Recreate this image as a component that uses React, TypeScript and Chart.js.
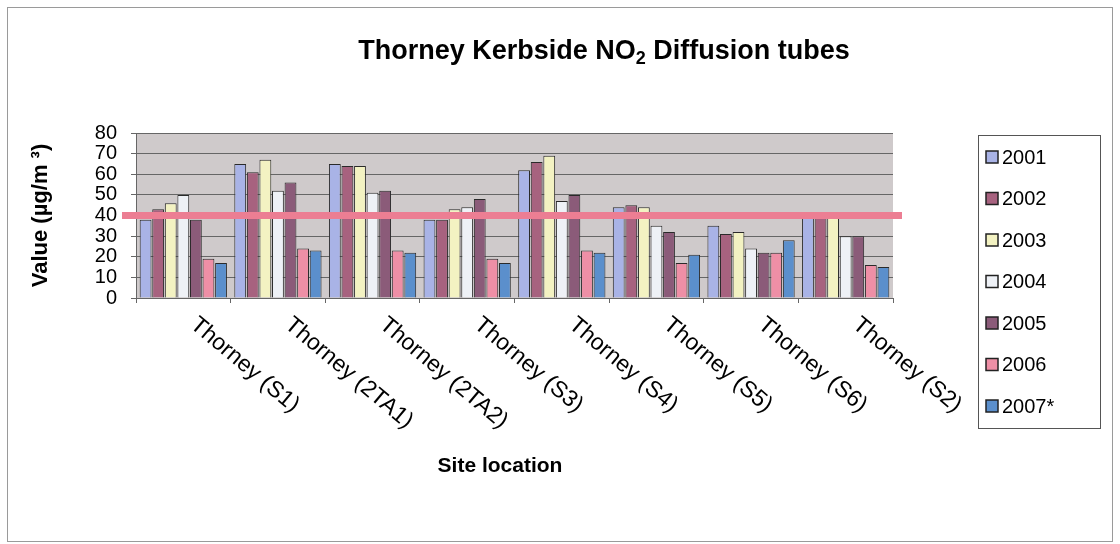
import React, { useEffect, useRef } from "react";
import { Chart, registerables } from "chart.js";

Chart.register(...registerables);

const categories = [
  "Thorney (S1)",
  "Thorney (2TA1)",
  "Thorney (2TA2)",
  "Thorney (S3)",
  "Thorney (S4)",
  "Thorney (S5)",
  "Thorney (S6)",
  "Thorney (S2)",
];
const seriesLabels = ["2001", "2002", "2003", "2004", "2005", "2006", "2007*"];
const values2001 = [38, 65, 65, 38, 62, 44, 35, 39];
const values2002 = [43, 61, 64, 38, 66, 45, 31, 39];
const values2003 = [46, 67, 64, 43, 69, 44, 32, 39];
const values2004 = [50, 52, 51, 44, 47, 35, 24, 30];
const values2005 = [38, 56, 52, 48, 50, 32, 22, 30];
const values2006 = [19, 24, 23, 19, 23, 17, 22, 16];
const values2007 = [17, 23, 22, 17, 22, 21, 28, 15];
const yMin = 0;
const yMax = 80;
const yStep = 10;
const limitValue = 40;
const xAxisTitle = "Site location";

const seriesColors = ["#A9B3E6", "#A7627F", "#F3F2C2", "#EEF1F6", "#8B5B79", "#EE8FA6", "#5B8FCC"];
const FONT = "'Liberation Sans', Arial, sans-serif";

const decorPlugin = {
  id: "decor",
  beforeDraw(chart: any) {
    const { ctx, chartArea, width, height } = chart;
    ctx.save();
    ctx.fillStyle = "#ffffff";
    ctx.fillRect(0, 0, width, height);
    ctx.strokeStyle = "#9a9a9a";
    ctx.lineWidth = 1;
    ctx.strokeRect(7.5, 7.5, width - 15, height - 10);
    ctx.fillStyle = "#CFCACB";
    ctx.fillRect(chartArea.left, chartArea.top, chartArea.right - chartArea.left, chartArea.bottom - chartArea.top);
    ctx.restore();
  },
  afterDatasetsDraw(chart: any) {
    const { ctx, chartArea, scales } = chart;
    const y = scales.y.getPixelForValue(limitValue);
    ctx.save();
    ctx.strokeStyle = "#EC7E93";
    ctx.lineWidth = 7;
    ctx.beginPath();
    ctx.moveTo(chartArea.left - 14, y);
    ctx.lineTo(chartArea.right + 9, y);
    ctx.stroke();
    ctx.restore();
  },
  afterDraw(chart: any) {
    const { ctx, chartArea, scales } = chart;
    ctx.save();
    // title with subscript
    const titleFont = `bold 27px ${FONT}`;
    const subFont = `bold 18px ${FONT}`;
    const p1 = "Thorney Kerbside NO";
    const p2 = "2";
    const p3 = " Diffusion tubes";
    ctx.font = titleFont;
    const w1 = ctx.measureText(p1).width;
    const w3 = ctx.measureText(p3).width;
    ctx.font = subFont;
    const w2 = ctx.measureText(p2).width;
    const total = w1 + w2 + w3;
    const cx = 604;
    const by = 59;
    let x = cx - total / 2;
    ctx.fillStyle = "#000";
    ctx.textBaseline = "alphabetic";
    ctx.textAlign = "left";
    ctx.font = titleFont;
    ctx.fillText(p1, x, by);
    x += w1;
    ctx.font = subFont;
    ctx.fillText(p2, x, by + 5);
    x += w2;
    ctx.font = titleFont;
    ctx.fillText(p3, x, by);

    // x axis title
    ctx.font = `bold 21px ${FONT}`;
    ctx.textAlign = "center";
    ctx.textBaseline = "middle";
    ctx.fillText(xAxisTitle, 500, 466);

    // rotated category labels (clockwise)
    ctx.font = `23px ${FONT}`;
    ctx.textAlign = "left";
    ctx.textBaseline = "middle";
    categories.forEach((label, i) => {
      const px = scales.x.getPixelForValue(i);
      ctx.save();
      ctx.translate(px + 10, chartArea.bottom + 24);
      ctx.rotate((40 * Math.PI) / 180);
      ctx.fillText(label, 0, 0);
      ctx.restore();
    });

    // legend
    const lx = 978;
    const ly = 135;
    const lw = 122;
    const lh = 293;
    ctx.fillStyle = "#ffffff";
    ctx.fillRect(lx, ly, lw, lh);
    ctx.strokeStyle = "#555";
    ctx.lineWidth = 1;
    ctx.strokeRect(lx + 0.5, ly + 0.5, lw, lh);
    ctx.font = `20px ${FONT}`;
    ctx.textBaseline = "middle";
    ctx.textAlign = "left";
    seriesLabels.forEach((label, i) => {
      const iy = ly + 22 + i * 41.5;
      ctx.fillStyle = seriesColors[i];
      ctx.fillRect(lx + 8, iy - 6, 12, 12);
      ctx.strokeStyle = "#222";
      ctx.lineWidth = 1.5;
      ctx.strokeRect(lx + 8, iy - 6, 12, 12);
      ctx.fillStyle = "#000";
      ctx.fillText(label, lx + 24, iy + 1);
    });
    ctx.restore();
  },
};

export default function App() {
  const ref = useRef<HTMLCanvasElement | null>(null);
  useEffect(() => {
    if (!ref.current) return;
    const allValues = [values2001, values2002, values2003, values2004, values2005, values2006, values2007];
    const chart = new Chart(ref.current, {
      type: "bar",
      data: {
        labels: categories,
        datasets: seriesLabels.map((label, i) => ({
          label,
          data: allValues[i],
          backgroundColor: seriesColors[i],
          borderColor: "#2a2a2a",
          borderWidth: 1,
          categoryPercentage: 0.93,
          barPercentage: 0.94,
        })),
      },
      options: {
        responsive: false,
        animation: false,
        layout: { padding: { left: 0, top: 133, right: 227, bottom: 0 } },
        plugins: {
          legend: { display: false },
          title: { display: false },
          tooltip: { enabled: false },
        },
        scales: {
          x: {
            type: "category",
            offset: true,
            afterFit: (scale: any) => {
              scale.height = 246;
            },
            grid: {
              offset: true,
              drawOnChartArea: false,
              drawTicks: true,
              tickLength: 5,
              color: "#666",
            },
            border: { display: true, color: "#666", width: 1 },
            ticks: { display: false },
            title: { display: false },
          },
          y: {
            min: yMin,
            max: yMax,
            afterFit: (scale: any) => {
              scale.width = 136;
            },
            ticks: {
              stepSize: yStep,
              autoSkip: false,
              color: "#000",
              padding: 14,
              font: { family: FONT, size: 20, lineHeight: 1 },
            },
            grid: {
              color: "#666",
              lineWidth: 1,
              drawTicks: true,
              tickLength: 5,
            },
            border: { display: true, color: "#666", width: 1 },
            title: {
              display: true,
              text: "Value (µg/m ³)",
              color: "#000",
              font: { family: FONT, size: 22, weight: "bold" },
              padding: { top: 28, bottom: 0 },
            },
          },
        },
      },
      plugins: [decorPlugin],
    });
    return () => chart.destroy();
  }, []);
  return (
    <div style={{ position: "absolute", left: 0, top: 0, width: 1120, height: 544 }}>
      <canvas ref={ref} width={1120} height={544} style={{ display: "block" }} />
    </div>
  );
}
